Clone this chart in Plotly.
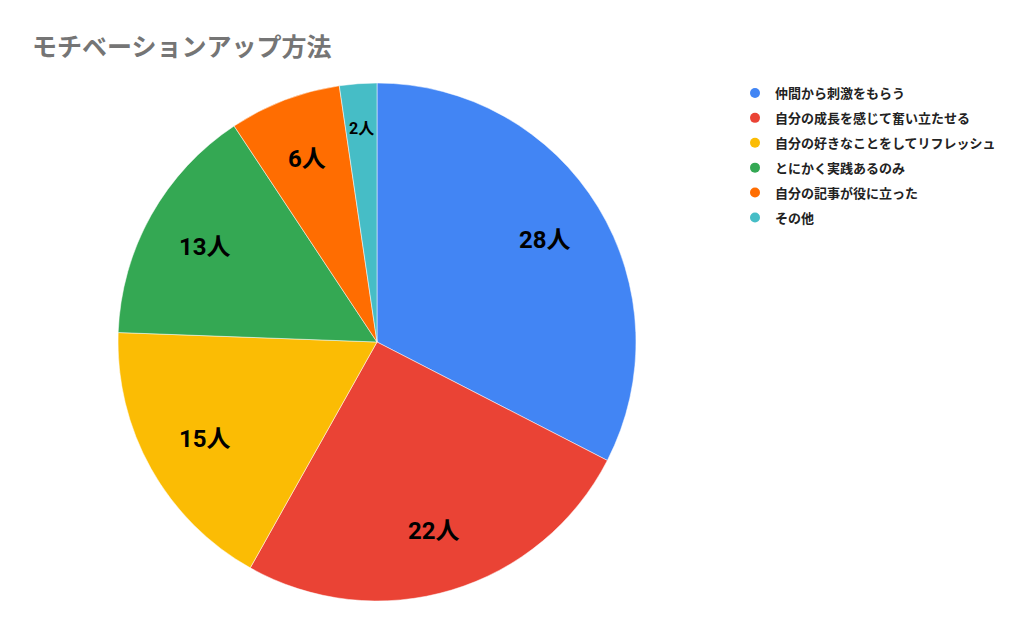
import math
import plotly.graph_objects as go

labels = ["仲間から刺激をもらう", "自分の成長を感じて奮い立たせる", "自分の好きなことをしてリフレッシュ",
          "とにかく実践あるのみ", "自分の記事が役に立った", "その他"]
values = [28, 22, 15, 13, 6, 2]
colors = ["#4285F4", "#EA4335", "#FBBC04", "#34A853", "#FF6D01", "#46BDC6"]
title = "モチベーションアップ方法"

W, H = 1024, 633
T, B = 75, 40
PH = H - T - B
FONT = "Roboto, Noto Sans CJK JP, sans-serif"

dom_x = [110 / W, 628 / W]

fig = go.Figure()

fig.add_trace(go.Pie(
    labels=labels,
    values=values,
    textinfo="none",
    marker=dict(colors=colors, line=dict(color="#ffffff", width=0.5)),
    sort=False,
    direction="clockwise",
    rotation=0,
    showlegend=False,
    hoverinfo="label+value+percent",
    domain=dict(x=dom_x, y=[0, 1]),
))

# slice labels placed at ~3/4 of the radius, like the sheets chart
cx = (dom_x[0] + dom_x[1]) / 2 * W
cy = T + PH / 2 + 1
R = PH / 2
total = sum(values)
acc = 0
for v in values:
    mid = (acc + v / 2) / total * 2 * math.pi
    acc += v
    rr = 0.76 * R if v > 3 else 0.83 * R
    px = cx + rr * math.sin(mid)
    py = cy - rr * math.cos(mid)
    fig.add_annotation(
        x=px / W, y=(H - B - py) / PH, xref="paper", yref="paper",
        xanchor="center", yanchor="middle",
        text=f"{v}人", showarrow=False,
        font=dict(family=FONT, size=24 if v > 3 else 16, color="#000000", weight="bold"),
    )

# legend with round markers like the original
for lab, col in zip(labels, colors):
    fig.add_trace(go.Scatter(
        x=[None], y=[None], mode="markers", name=lab, legendgroup=lab,
        marker=dict(color=col, size=10, symbol="circle"),
    ))

fig.update_layout(
    width=W, height=H,
    margin=dict(l=0, r=0, t=T, b=B),
    paper_bgcolor="#ffffff",
    plot_bgcolor="#ffffff",
    title=dict(text=title, x=24 / W, xanchor="left", y=1 - 39 / H, yanchor="middle",
               font=dict(family=FONT, size=25, color="#757575", weight="bold")),
    xaxis=dict(visible=False),
    yaxis=dict(visible=False),
    legend=dict(x=727 / W, xanchor="left", y=(H - B - 70) / PH, yanchor="top",
                font=dict(family=FONT, size=13, color="#222222", weight="bold"),
                tracegroupgap=5, itemwidth=30, bgcolor="rgba(0,0,0,0)"),
)

fig.write_html("out.html")
